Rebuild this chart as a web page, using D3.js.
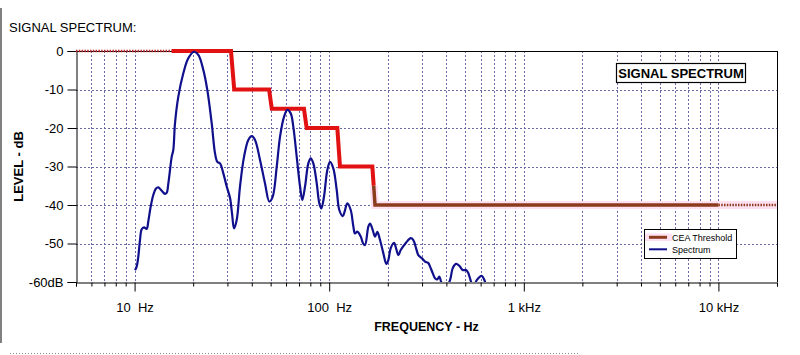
<!DOCTYPE html>
<html>
<head>
<meta charset="utf-8">
<script src="https://cdn.jsdelivr.net/npm/d3@7"></script>
<style>
  html, body { margin: 0; padding: 0; background: #ffffff; }
  svg { display: block; font-family: "Liberation Sans", Arial, sans-serif; }
  text { white-space: pre; }
</style>
</head>
<body>
<svg id="chart" width="800" height="355"></svg>
<script>
// ---------------- DATA ----------------
const chartTitle = "SIGNAL SPECTRUM:";
const boxTitle = "SIGNAL SPECTRUM";
const xAxisTitle = "FREQUENCY - Hz";
const yAxisTitle = "LEVEL - dB";

const freqDomain = [5, 20000];
const levelDomain = [-60, 0];

const majorFreqTicks = [10, 100, 1000, 10000];
const majorFreqLabels = ["10  Hz", "100  Hz", "1 kHz", "10 kHz"];
const levelTicks = [0, -10, -20, -30, -40, -50, -60];
const levelLabels = ["0", "-10", "-20", "-30", "-40", "-50", "-60dB"];

const legendNames = ["CEA Threshold", "Spectrum"];

// CEA threshold (red part)
const thresholdFreq = [15.5, 31.3, 32.5, 49.1, 50.7, 74.2, 76.6, 110.1, 113.6, 166.6, 169.3];
const thresholdDb   = [0,    0,    -10,  -10,  -15,  -15,  -20,  -20,   -30,   -30,   -35];
// CEA threshold (highlighted last part)
const thresholdHiFreq = [169.3, 172.0, 10000];
const thresholdHiDb   = [-35,   -40,   -40];
// dotted extensions
const thresholdLowExtFreq = [5, 15.5];
const thresholdLowExtDb   = [0, 0];
const thresholdHighExtFreq = [10000, 20000];
const thresholdHighExtDb   = [-40, -40];

// Spectrum
const spectrumFreq = [10.05, 10.25, 10.45, 10.66, 10.88, 11.18, 11.54, 11.76, 12.10, 12.48,
  12.89, 13.24, 13.79, 14.33, 14.63, 14.91, 15.21, 15.51, 15.81, 16.13,
  16.77, 17.80, 18.88, 20.20, 21.26, 22.55, 23.64, 24.91, 25.91, 26.62,
  27.48, 28.58, 29.75, 30.94, 31.67, 32.43, 33.48, 34.81, 36.50, 38.41,
  39.99, 41.58, 44.11, 46.80, 49.24, 51.27, 53.74, 55.88, 58.60, 60.93,
  63.43, 65.42, 68.10, 70.82, 72.77, 75.13, 78.12, 80.38, 82.88, 86.29,
  88.99, 91.11, 94.05, 97.81, 100.97, 105.0, 109.3, 112.7, 117.4, 119.9,
  123.9, 129.0, 133.1, 135.7, 139.5, 145.2, 149.8, 152.8, 158.9, 162.1,
  167.4, 172.0, 176.7, 182.5, 189.7, 196.6, 201.3, 207.1, 215.3, 220.5,
  226.5, 233.1, 248.2, 262.4, 270.6, 279.4, 287.1, 299.0, 310.8, 323.2,
  329.8, 340.4, 349.8, 359.4, 368.1, 375.6, 393.8, 417.8, 431.4, 448.5,
  466.4, 485.6, 504.9, 518.8, 533.8, 551.8, 573.0, 607.9, 624.6, 639.6];
const spectrumDb = [-56.9, -56.0, -53.4, -49.1, -46.3, -45.8, -46.2, -44.3, -40.4, -37.4,
  -35.7, -35.4, -36.3, -37.1, -36.8, -34.4, -30.9, -27.5, -25.7, -18.8,
  -11.9, -5.8, -1.9, -0.2, -1.0, -4.9, -10.1, -18.8, -26.6, -28.8,
  -29.2, -31.8, -35.2, -38.2, -42.2, -46.1, -43.9, -35.2, -27.5, -23.1,
  -22.1, -23.1, -28.3, -34.4, -39.1, -37.8, -30.1, -22.3, -17.1, -15.3,
  -16.2, -19.7, -27.5, -35.2, -38.7, -35.2, -29.2, -27.9, -29.2, -34.4,
  -39.6, -40.9, -37.8, -30.9, -28.8, -30.5, -36.1, -41.3, -42.9, -41.8,
  -39.6, -41.3, -45.6, -47.4, -46.9, -48.2, -50.1, -50.4, -45.6, -44.8,
  -46.5, -48.2, -47.0, -49.1, -52.5, -55.3, -54.3, -51.2, -49.8, -51.2,
  -53.0, -51.7, -49.8, -48.6, -49.1, -51.2, -53.0, -53.8, -54.7, -55.1,
  -56.0, -57.7, -59.0, -59.3, -58.6, -59.9, -62.1, -59.5, -56.4, -55.3,
  -55.8, -56.9, -56.9, -57.7, -59.7, -61.3, -59.5, -58.4, -59.3, -60.8];

// ---------------- DRAW ----------------
const svg = d3.select("#chart");
const plot = { left: 76, right: 777, top: 51, bottom: 282 };

const x = d3.scaleLog().domain(freqDomain).range([plot.left, plot.right]);
const y = d3.scaleLinear().domain(levelDomain).range([plot.bottom, plot.top]);

const gridColor = "#6a6aaa";
const redColor = "#e31212";
const brownColor = "#8a3c1c";
const haloColor = "#ffe0f2";
const navy = "#10108c";

// page decorations
svg.append("line").attr("x1", 1).attr("x2", 1).attr("y1", 8).attr("y2", 343)
  .attr("stroke", "#808080").attr("stroke-width", 2);
svg.append("line").attr("x1", 10).attr("x2", 578).attr("y1", 353.5).attr("y2", 353.5)
  .attr("stroke", "#8a8a8a").attr("stroke-width", 1).attr("stroke-dasharray", "1,2");

// title
svg.append("text").attr("x", 9).attr("y", 31.5).attr("font-size", 13)
  .attr("fill", "#000").text(chartTitle);

// clip
svg.append("defs").append("clipPath").attr("id", "plotclip")
  .append("rect").attr("x", plot.left).attr("y", plot.top - 3)
  .attr("width", plot.right - plot.left).attr("height", plot.bottom - plot.top + 3);

// minor/major frequency grid values
const gridFreqs = [];
for (let e = 0; e <= 4; e++) {
  for (let m = 1; m <= 9; m++) {
    const f = m * Math.pow(10, e);
    if (f > freqDomain[0] && f < freqDomain[1]) gridFreqs.push(f);
  }
}
const grid = svg.append("g");
grid.selectAll("line.v").data(gridFreqs).enter().append("line")
  .attr("x1", d => Math.round(x(d)) + 0.5).attr("x2", d => Math.round(x(d)) + 0.5)
  .attr("y1", plot.top).attr("y2", plot.bottom)
  .attr("stroke", gridColor).attr("stroke-width", 1).attr("stroke-dasharray", "2,2");
grid.selectAll("line.h").data(levelTicks.filter(v => v > -60 && v < 0)).enter().append("line")
  .attr("x1", plot.left).attr("x2", plot.right)
  .attr("y1", d => Math.round(y(d)) + 0.5).attr("y2", d => Math.round(y(d)) + 0.5)
  .attr("stroke", gridColor).attr("stroke-width", 1).attr("stroke-dasharray", "2,2");

// frame
svg.append("line").attr("x1", plot.left).attr("x2", plot.right).attr("y1", plot.top + 0.5).attr("y2", plot.top + 0.5)
  .attr("stroke", "#000");
svg.append("line").attr("x1", plot.right + 0.5).attr("x2", plot.right + 0.5).attr("y1", plot.top).attr("y2", plot.bottom)
  .attr("stroke", "#000");

// Y axis
const yAxis = d3.axisLeft(y).tickValues(levelTicks).tickSize(9).tickPadding(4)
  .tickFormat((d, i) => levelLabels[i]);
const gy = svg.append("g").attr("transform", `translate(${plot.left + 0.5},0)`).call(yAxis);
gy.select(".domain").attr("stroke", "#000");
gy.selectAll("text").attr("font-size", 13).attr("font-family", "Liberation Sans, Arial, sans-serif").attr("fill", "#000");
gy.selectAll(".tick line").attr("stroke", "#000");

// X axis minor ticks
const minorTicks = [freqDomain[0]].concat(gridFreqs.filter(f => majorFreqTicks.indexOf(f) < 0)).concat([freqDomain[1]]);
const xMinor = d3.axisBottom(x).tickValues(minorTicks).tickSize(4).tickFormat("");
const gxm = svg.append("g").attr("transform", `translate(0,${plot.bottom + 0.5})`).call(xMinor);
gxm.select(".domain").attr("stroke", "#000");
gxm.selectAll(".tick line").attr("stroke", "#000");
const xMajor = d3.axisBottom(x).tickValues(majorFreqTicks).tickSize(9).tickPadding(11)
  .tickFormat((d, i) => majorFreqLabels[i]);
const gx = svg.append("g").attr("transform", `translate(0,${plot.bottom + 0.5})`).call(xMajor);
gx.select(".domain").remove();
gx.selectAll(".tick line").attr("stroke", "#000");
gx.selectAll("text").attr("font-size", 13).attr("font-family", "Liberation Sans, Arial, sans-serif").attr("fill", "#000");

// axis titles
svg.append("text").attr("x", (plot.left + plot.right) / 2).attr("y", 331)
  .attr("text-anchor", "middle").attr("font-size", 12.5).attr("font-weight", "bold").text(xAxisTitle);
svg.append("text").attr("transform", `translate(23,${(plot.top + plot.bottom) / 2}) rotate(-90)`)
  .attr("text-anchor", "middle").attr("font-size", 13).attr("font-weight", "bold").text(yAxisTitle);

// lines
const line = d3.line().x(d => x(d[0])).y(d => y(d[1]));
const zip = (a, b) => a.map((v, i) => [v, b[i]]);

const series = svg.append("g").attr("clip-path", "url(#plotclip)");
// low dotted extension
series.append("path").datum(zip(thresholdLowExtFreq, thresholdLowExtDb)).attr("d", line)
  .attr("fill", "none").attr("stroke", "#b82828").attr("stroke-width", 2.5).attr("stroke-dasharray", "1.5,1.3");
// halo under highlighted part
series.append("path").datum(zip(thresholdHiFreq, thresholdHiDb).concat(zip(thresholdHighExtFreq, thresholdHighExtDb).slice(1)))
  .attr("d", line).attr("fill", "none").attr("stroke", haloColor).attr("stroke-width", 8);
// red threshold
series.append("path").datum(zip(thresholdFreq, thresholdDb)).attr("d", line)
  .attr("fill", "none").attr("stroke", redColor).attr("stroke-width", 4).attr("stroke-linejoin", "miter");
// highlighted part
series.append("path").datum(zip(thresholdHiFreq, thresholdHiDb)).attr("d", line)
  .attr("fill", "none").attr("stroke", brownColor).attr("stroke-width", 3.5);
series.append("path").datum(zip(thresholdHighExtFreq, thresholdHighExtDb)).attr("d", line)
  .attr("fill", "none").attr("stroke", brownColor).attr("stroke-width", 2.5).attr("stroke-dasharray", "1.5,1.3");
// spectrum
series.append("path").datum(zip(spectrumFreq, spectrumDb))
  .attr("d", d3.line().x(d => x(d[0])).y(d => y(d[1])).curve(d3.curveCatmullRom.alpha(0.5)))
  .attr("fill", "none").attr("stroke", navy).attr("stroke-width", 2.2).attr("stroke-linejoin", "round");

// boxed title
svg.append("rect").attr("x", 616.5).attr("y", 63.5).attr("width", 129).attr("height", 19)
  .attr("fill", "#fff").attr("stroke", "#000").attr("stroke-width", 1.2);
svg.append("text").attr("x", 681).attr("y", 78).attr("text-anchor", "middle")
  .attr("font-size", 13).attr("font-weight", "bold").text(boxTitle);

// legend
const lg = svg.append("g");
lg.append("rect").attr("x", 644.5).attr("y", 229.5).attr("width", 92).attr("height", 29)
  .attr("fill", "#fff").attr("stroke", "#000").attr("stroke-width", 1);
lg.append("rect").attr("x", 645).attr("y", 233.5).attr("width", 27).attr("height", 7.5).attr("fill", haloColor);
lg.append("line").attr("x1", 649).attr("x2", 667).attr("y1", 237.3).attr("y2", 237.3)
  .attr("stroke", brownColor).attr("stroke-width", 3);
lg.append("line").attr("x1", 649).attr("x2", 667).attr("y1", 249.3).attr("y2", 249.3)
  .attr("stroke", navy).attr("stroke-width", 2);
lg.selectAll("text.l").data(legendNames).enter().append("text")
  .attr("x", 672).attr("y", (d, i) => 241 + i * 11.5)
  .attr("font-size", 9).attr("fill", "#000").text(d => d);
</script>
</body>
</html>
